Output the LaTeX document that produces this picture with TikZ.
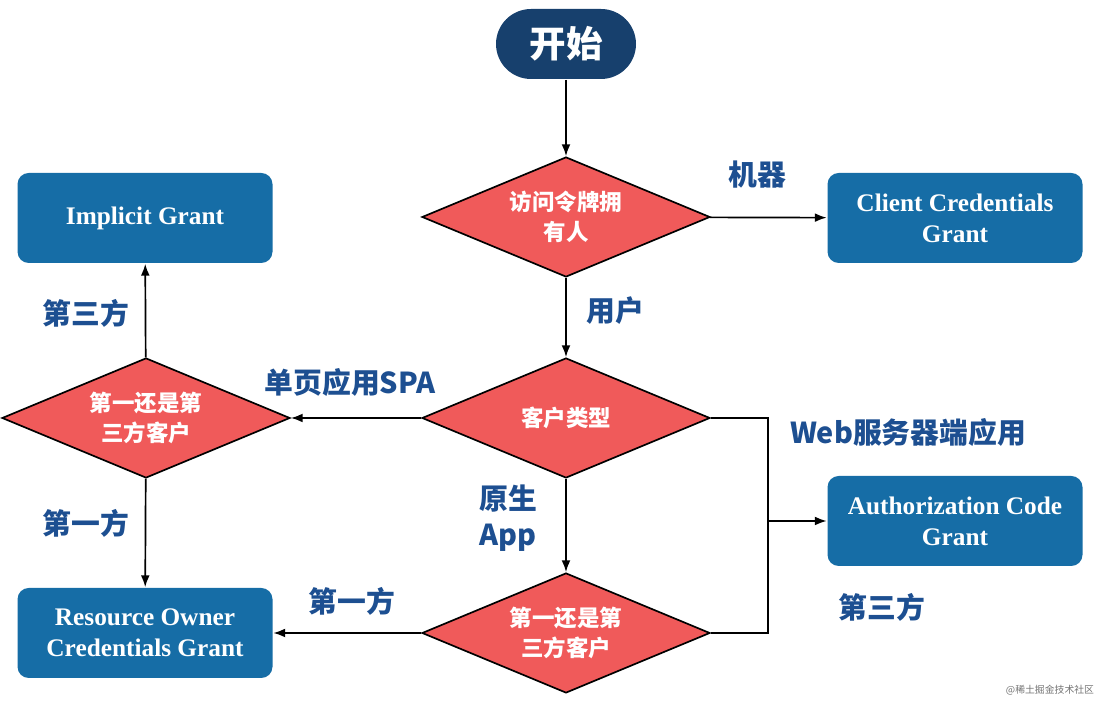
\documentclass[tikz,border=0pt]{standalone}
\usepackage{fontspec}
\setmainfont{Liberation Serif}
\newfontfamily\cjk{Noto Sans CJK SC}
\usepackage{tikz}
\usetikzlibrary{arrows.meta,positioning,calc,shapes.geometric}

\definecolor{startnavy}{HTML}{17406D}
\definecolor{grantblue}{HTML}{166DA6}
\definecolor{choicered}{HTML}{F05A5A}
\definecolor{labelblue}{HTML}{1D4F91}

\begin{document}
\begin{tikzpicture}[
  grant/.style={rectangle, rounded corners=8pt, fill=grantblue, text=white, minimum width=6.375cm, minimum height=2.25cm, align=center, font=\fontsize{18}{22}\selectfont\bfseries},
  choice/.style={diamond, aspect=2.4, draw=black, line width=1.2pt, fill=choicered, text=white, inner sep=0pt, minimum width=7.2cm, minimum height=3cm, align=center, font=\cjk\fontsize{16}{21}\selectfont\bfseries},
  edgelabel/.style={text=labelblue, align=center, font=\cjk\fontsize{20.5}{26}\selectfont\bfseries},
  >=Latex, line width=1.2pt
]
\useasboundingbox (0,0) rectangle (27.5,17.7);

% Start
\node[rectangle, rounded corners=0.875cm, fill=startnavy, text=white, minimum width=3.5cm, minimum height=1.75cm, font=\cjk\fontsize{26}{30}\selectfont\bfseries] (Start) at (14.15, 16.6) {开始};

% Decisions
\node[choice] (Owner) at (14.15, 12.275) {访问令牌拥\\有人};
\node[choice] (Type) at (14.15, 7.25) {客户类型};
\node[choice] (PartyL) at (3.65, 7.25) {第一还是第\\三方客户};
\node[choice] (PartyB) at (14.15, 1.875) {第一还是第\\三方客户};

% Grant types
\node[grant] (Client) at (23.875, 12.25) {Client Credentials\\Grant};
\node[grant] (Implicit) at (3.625, 12.25) {Implicit Grant};
\node[grant] (AuthCode) at (23.875, 4.675) {Authorization Code\\Grant};
\node[grant] (Password) at (3.625, 1.875) {Resource Owner\\Credentials Grant};

% Connectors
\draw[->] (Start) -- (Owner);
\draw[->] (Owner) -- (Type);
\draw[->] (Owner) -- (Client);
\draw[->] (Type) -- (PartyL);
\draw[->] (Type) -- (PartyB);
\draw[->] (PartyL) -- (Implicit);
\draw[->] (PartyL) -- (Password);
\draw[->] (PartyB) -- (Password);

% Web server and third party both lead to the code grant
\coordinate (Join) at (19.2, 4.675);
\draw (Type.east) -| (Join);
\draw (PartyB.east) -| (Join);
\draw[->] (Join) -- (AuthCode);

% Labels
\node[edgelabel] at (15.375, 9.925) {用户};
\node[edgelabel] at (18.925, 13.325) {机器};
\node[edgelabel] at (8.75, 8.15) {单页应用SPA};
\node[edgelabel] at (12.7, 4.75) {原生\\App};
\node[edgelabel] at (22.7, 6.9) {Web服务器端应用};
\node[edgelabel] at (22.05, 2.525) {第三方};
\node[edgelabel] at (2.15, 9.875) {第三方};
\node[edgelabel] at (2.15, 4.625) {第一方};
\node[edgelabel] at (8.8, 2.675) {第一方};

% Watermark
\node[text=black!55, font=\cjk\fontsize{7}{8}\selectfont] at (26.25, 0.45) {@稀土掘金技术社区};

\end{tikzpicture}
\end{document}
